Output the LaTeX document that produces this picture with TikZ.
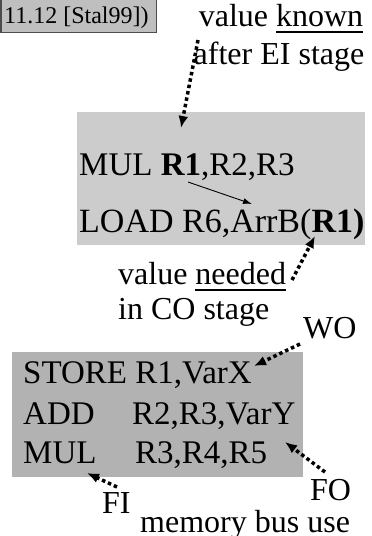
\documentclass[tikz,border=0pt]{standalone}
\usepackage{fontspec}
\setmainfont{Liberation Serif}
\usepackage{xcolor}
\definecolor{colorTag}{gray}{0.75}
\definecolor{colorHazard}{gray}{0.80}
\definecolor{colorBus}{gray}{0.70}
\usetikzlibrary{arrows.meta, positioning}
\newcommand{\undl}[1]{\setbox0\hbox{#1}\rlap{\rule[-6.5pt]{\wd0}{2pt}}\box0}
\tikzset{
  txt/.style={anchor=base west, inner sep=0pt, font=\fontsize{32}{38}\selectfont},
  code/.style={txt, font=\fontsize{33}{40}\selectfont},
  hint/.style={-{Latex[length=12pt,width=10pt]}, line width=3.5pt, dash pattern=on 3.5pt off 3pt},
  dep/.style={-{Latex[length=9pt,width=6pt]}, line width=0.9pt},
  panel/.style={anchor=north west, inner sep=0pt}
}

\begin{document}
\begin{tikzpicture}[x=1pt, y=-1pt]
\useasboundingbox (0,0) rectangle (372,536);
% tag box
\draw[draw=black!70, line width=1.5pt, fill=colorTag] (0.8,-2) rectangle (156.5,32.5);
\node[txt, font=\fontsize{24}{28}\selectfont] (tag) at (4,23) {11.12 [Stal99])};
% data hazard
\node[panel, fill=colorHazard, minimum width=288pt, minimum height=133pt] (hazard) at (77,112) {};
\node[code] (mulLine) at (79,175) {MUL \textbf{R1},R2,R3};
\node[code, font=\fontsize{34}{40}\selectfont] (loadLine) at (79,232) {LOAD R6,ArrB(\textbf{R1)}};
\node[txt, anchor=base] (knownA) at (281,26) {value \undl{known}};
\node[txt, anchor=base] (knownB) at (279,64) {after EI stage};
\node[txt] (neededA) at (118,284) {value \undl{needed}};
\node[txt] (neededB) at (118,319) {in CO stage};
% structural hazard
\node[panel, fill=colorBus, minimum width=291pt, minimum height=125pt] (bus) at (12,352) {};
\node[code] (storeLine) at (23,383) {STORE R1,VarX};
\node[code] (addLine) at (23,424) {\makebox[109pt][l]{ADD}R2,R3,VarY};
\node[code] (mulBusLine) at (23,463) {\makebox[112pt][l]{MUL}R3,R4,R5};
\node[txt] (wo) at (303,338) {WO};
\node[txt] (fo) at (310,500) {FO};
\node[txt] (fi) at (102,513) {FI};
\node[txt] (busUse) at (140,532) {memory bus use};
% arrow ends
\coordinate (knownTail) at (198,40);
\coordinate (knownHead) at (181,128);
\coordinate (neededTail) at (292,280);
\coordinate (neededHead) at (315,236);
\coordinate (woTail) at (300,344);
\coordinate (woHead) at (254,366);
\coordinate (foTail) at (325,472);
\coordinate (foHead) at (285,442);
\coordinate (fiTail) at (117,487);
\coordinate (fiHead) at (87,473);
\coordinate (r1Src) at (188,182);
\coordinate (r1Dst) at (252,204);
\draw[dep] (r1Src) -- (r1Dst);
\draw[hint] (knownTail) -- (knownHead);
\draw[hint] (neededTail) -- (neededHead);
\draw[hint] (woTail) -- (woHead);
\draw[hint] (foTail) -- (foHead);
\draw[hint] (fiTail) -- (fiHead);
\end{tikzpicture}
\end{document}
